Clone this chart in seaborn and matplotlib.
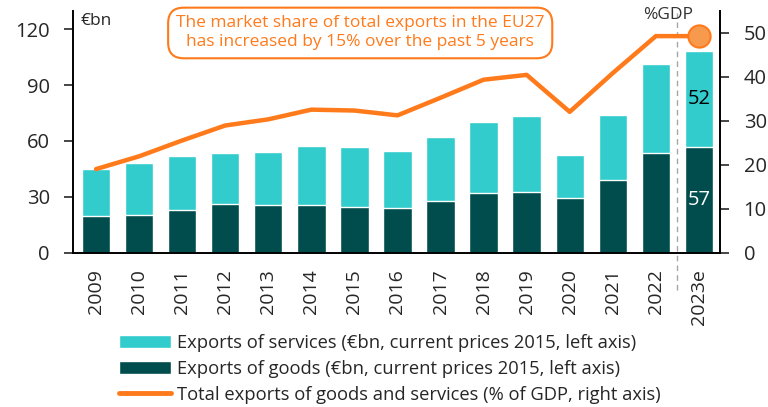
import matplotlib
matplotlib.use("Agg")
import matplotlib.pyplot as plt
import seaborn as sns
import pandas as pd
import numpy as np
from matplotlib.patches import Patch
from matplotlib.lines import Line2D

# data
years = ["2009", "2010", "2011", "2012", "2013", "2014", "2015", "2016",
         "2017", "2018", "2019", "2020", "2021", "2022", "2023e"]
goods = [19.8, 20.0, 22.8, 26.2, 25.8, 25.5, 24.4, 24.0,
         27.6, 32.1, 32.7, 29.6, 38.8, 53.4, 56.6]
services = [25.0, 28.4, 28.9, 27.6, 28.4, 31.9, 32.1, 30.4,
            34.3, 37.9, 40.7, 23.1, 35.3, 48.1, 51.9]
gdp_share = [19.0, 21.9, 25.5, 28.9, 30.3, 32.5, 32.3, 31.2,
             35.2, 39.3, 40.4, 32.0, 40.8, 49.2, 49.2]

c_serv = "#33CCCC"
c_goods = "#014C4C"
c_line = "#FF7A1A"
c_dot = "#F79A4E"

sns.set_style("white")
plt.rcParams["font.family"] = ["Open Sans", "DejaVu Sans"]

df = pd.DataFrame({"year": years, "goods": goods, "services": services})
df["total"] = df["goods"] + df["services"]

fig, ax = plt.subplots(figsize=(7.68, 4.07), dpi=100)
fig.subplots_adjust(left=0.0955, right=0.9375, bottom=0.379, top=0.974)

# stacked bars: total first (services colour), goods on top of it
sns.barplot(data=df, x="year", y="total", color=c_serv, width=0.66,
            saturation=1, ax=ax)
sns.barplot(data=df, x="year", y="goods", color=c_goods, width=0.66,
            saturation=1, ax=ax)

ax.set_ylim(0, 130)
ax.set_xlim(-0.527, 14.49)
ax.set_yticks([0, 30, 60, 90, 120])
ax.set_xlabel("")
ax.set_ylabel("")
ax.tick_params(axis="y", direction="out", length=6.5, width=1.2, labelsize=14.5, pad=10.5)
ax.tick_params(axis="x", length=0, labelsize=14, pad=12, rotation=90)
for s in ["top", "right"]:
    ax.spines[s].set_visible(False)
for s in ["left", "bottom"]:
    ax.spines[s].set_color("black")
    ax.spines[s].set_linewidth(1.4)

# labels on the estimate bar
last = len(years) - 1
ax.text(last, goods[last] / 2, f"{goods[last]:.0f}", color="white",
        ha="center", va="center", fontsize=14.5)
ax.text(last, goods[last] + services[last] / 2, f"{services[last]:.0f}",
        color="black", ha="center", va="center", fontsize=14.5)

# dashed separator before the estimate
ax.axvline(last - 0.5, ymin=-0.155, ymax=0.99, color="#A6A6A6", lw=1,
           ls=(0, (4, 3)), clip_on=False, zorder=0.5)

# share of GDP on right axis
ax2 = ax.twinx()
x_pos = np.arange(len(years))
sns.lineplot(x=x_pos, y=gdp_share, color=c_line, lw=3.2, ax=ax2)
ax2.plot(x_pos[last], gdp_share[last], "o", ms=16, mfc=c_dot, mec=c_line,
         mew=1.5, clip_on=False, zorder=5)
ax2.set_ylim(0, 55)
ax2.set_yticks([0, 10, 20, 30, 40, 50])
ax2.tick_params(axis="y", direction="out", length=6.5, width=1.2, labelsize=14.5, pad=10.5)
for s in ["top", "left", "bottom"]:
    ax2.spines[s].set_visible(False)
ax2.spines["right"].set_color("black")
ax2.spines["right"].set_linewidth(1.4)
ax2.set_xlim(ax.get_xlim())

fig.text(0.105, 0.968, "€bn", fontsize=12.5, ha="left", va="top")
fig.text(0.87, 0.963, "%GDP", fontsize=12.5, ha="center", va="center", color="#333333")

fig.text(0.469, 0.919,
         "The market share of total exports in the EU27\nhas increased by 15% over the past 5 years",
         fontsize=12.5, color=c_line, ha="center", va="center", linespacing=1.25,
         bbox=dict(boxstyle="round,pad=0.45,rounding_size=0.9", fc="white",
                   ec=c_line, lw=1.5))

handles = [
    Patch(facecolor=c_serv, label="Exports of services (€bn, current prices 2015, left axis)"),
    Patch(facecolor=c_goods, label="Exports of goods (€bn, current prices 2015, left axis)"),
    Line2D([0], [0], color=c_line, lw=3.5,
           label="Total exports of goods and services (% of GDP, right axis)"),
]
fig.legend(handles=handles, loc="upper left", bbox_to_anchor=(0.145, 0.197),
           frameon=False, fontsize=13.2, handlelength=2.85, handleheight=0.7,
           handletextpad=0.33, labelspacing=0.42, borderaxespad=0)

fig.savefig("out.png", dpi=100)
